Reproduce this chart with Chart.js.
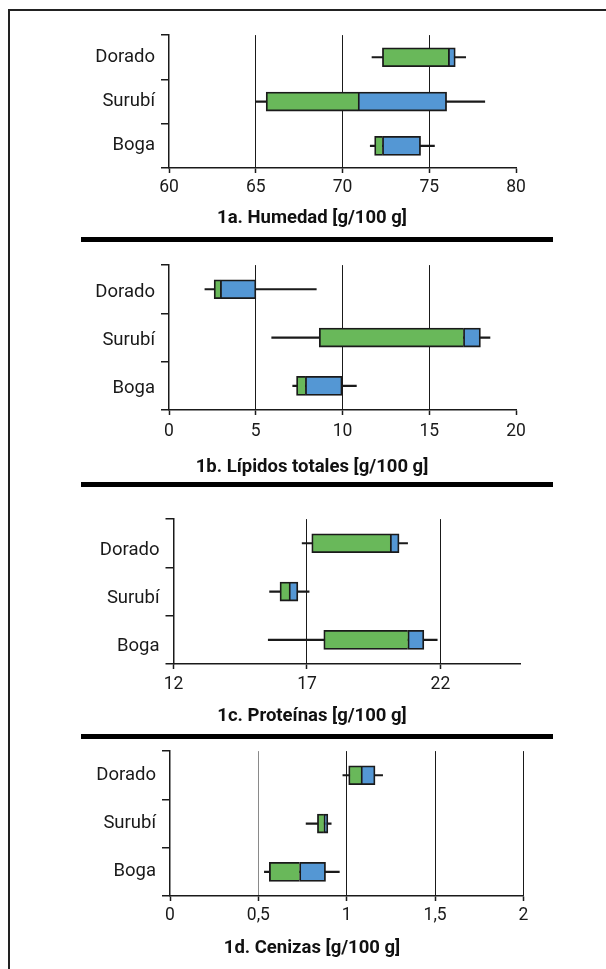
<!DOCTYPE html>
<html>
<head>
<meta charset="utf-8">
<script src="https://cdn.jsdelivr.net/npm/chart.js@4.4.1/dist/chart.umd.min.js"></script>
<style>
html, body { margin: 0; padding: 0; background: #fff; }
body { width: 606px; height: 969px; position: relative; overflow: hidden; }
canvas { position: absolute; left: 0; }
.frame { position: absolute; background: #222; }
.rule { position: absolute; background: #000; left: 81px; width: 472px; height: 5px; }
.ttl { position: absolute; left: 0; width: 624px; text-align: center; font: bold 18.5px Roboto, sans-serif;
       line-height: 22px; color: #111; white-space: nowrap; }
</style>
</head>
<body>
<div class="frame" style="left:8px;top:9px;width:2px;height:960px"></div>
<div class="frame" style="left:8px;top:9px;width:598px;height:2px"></div>
<div class="rule" style="top:237px"></div>
<div class="rule" style="top:482px"></div>
<div class="rule" style="top:734px"></div>
<canvas id="c1"></canvas>
<canvas id="c2"></canvas>
<canvas id="c3"></canvas>
<canvas id="c4"></canvas>
<div class="ttl" id="t1"></div>
<div class="ttl" id="t2"></div>
<div class="ttl" id="t3"></div>
<div class="ttl" id="t4"></div>
<script>
// categories
const species = ['Dorado', 'Surubí', 'Boga'];

// 1a. Humedad
const humedadLow = [71.7, 65.0, 71.6];
const humedadQ1 = [72.3, 65.6, 71.85];
const humedadMed = [76.1, 70.9, 72.3];
const humedadQ3 = [76.5, 76.0, 74.5];
const humedadHigh = [77.1, 78.2, 75.3];
const humedadTicks = [60, 65, 70, 75, 80];

// 1b. Lipidos totales
const lipidosLow = [2.07, 5.92, 7.13];
const lipidosQ1 = [2.6, 8.66, 7.35];
const lipidosMed = [2.96, 16.97, 7.86];
const lipidosQ3 = [5.01, 17.95, 9.98];
const lipidosHigh = [8.49, 18.5, 10.8];
const lipidosTicks = [0, 5, 10, 15, 20];

// 1c. Proteinas
const proteinasLow = [16.82, 15.6, 15.55];
const proteinasQ1 = [17.18, 15.99, 17.63];
const proteinasMed = [20.12, 16.33, 20.78];
const proteinasQ3 = [20.45, 16.66, 21.38];
const proteinasHigh = [20.77, 17.08, 21.88];
const proteinasTicks = [12, 17, 22];

// 1d. Cenizas
const cenizasLow = [0.978, 0.77, 0.534];
const cenizasQ1 = [1.011, 0.834, 0.562];
const cenizasMed = [1.081, 0.871, 0.733];
const cenizasQ3 = [1.16, 0.893, 0.88];
const cenizasHigh = [1.203, 0.912, 0.958];
const cenizasTicks = [0, 0.5, 1, 1.5, 2];

const GREEN = '#69b85a';
const BLUE = '#5497d4';
const INK = '#1a1a1a';
const FONT = 'Roboto';

function pairs(a, b) {
    return a.map((v, i) => [v, b[i]]);
}

function drawPanel(id, p) {
    const canvas = document.getElementById(id);
    const top = p.top - 15;
    const xh = Math.round(p.title + 11 - p.bottom);
    const h = p.bottom - top + xh;
    canvas.width = 606;
    canvas.height = h;
    canvas.style.top = top + 'px';

    // panel caption, centred on the page frame rather than on the plot
    const t = document.getElementById(p.titleId);
    t.textContent = p.name;
    t.style.top = (p.title - 11) + 'px';

    new Chart(canvas, {
        type: 'bar',
        data: {
            labels: species,
            datasets: [
                { data: pairs(p.low, p.high), backgroundColor: INK, borderWidth: 0, barThickness: 1.5, order: 3 },
                { data: pairs(p.q1, p.med), backgroundColor: GREEN, borderColor: INK, borderSkipped: false,
                  borderWidth: { top: 1.8, bottom: 1.8, left: 1.8, right: 0 }, barThickness: 19, order: 2 },
                { data: pairs(p.med, p.q3), backgroundColor: BLUE, borderColor: INK, borderSkipped: false,
                  borderWidth: 1.8, barThickness: 19, order: 1 }
            ]
        },
        options: {
            indexAxis: 'y',
            responsive: false,
            animation: false,
            devicePixelRatio: 1,
            datasets: { bar: { grouped: false } },
            layout: { padding: { top: 15, right: 606 - p.right, left: 0, bottom: 0 } },
            plugins: { legend: { display: false }, tooltip: { enabled: false } },
            scales: {
                y: {
                    afterFit: s => { s.width = p.left; },
                    grid: { offset: true, drawOnChartArea: false, tickLength: 8, color: INK, lineWidth: 1.5 },
                    border: { color: INK, width: 1.5 },
                    ticks: { color: INK, padding: 6, labelOffset: p.labelShift || 0, font: { family: FONT, size: 18.5 } }
                },
                x: {
                    min: p.from,
                    max: p.to,
                    afterFit: s => { s.height = xh; },
                    afterBuildTicks: s => { s.ticks = p.ticks.map(v => ({ value: v })); },
                    grid: {
                        color: c => {
                            const v = c.tick ? c.tick.value : null;
                            if (v === p.from) return 'rgba(0,0,0,0)';
                            if (v === p.to && p.hideLast) return 'rgba(0,0,0,0)';
                            if (v === p.grayAt) return '#8a8a8a';
                            return INK;
                        },
                        lineWidth: 1,
                        tickLength: 5,
                        tickColor: INK,
                        tickWidth: 1.5
                    },
                    border: { color: INK, width: 1.5 },
                    ticks: {
                        color: INK,
                        padding: p.tickPad,
                        font: { family: FONT, size: 17.5 },
                        callback: v => String(v).replace('.', ',')
                    }
                }
            }
        }
    });
}

drawPanel('c1', {
    name: '1a. Humedad [g/100 g]', titleId: 't1',
    low: humedadLow, q1: humedadQ1, med: humedadMed, q3: humedadQ3, high: humedadHigh,
    ticks: humedadTicks, from: 60, to: 80, hideLast: true,
    left: 169, right: 516, top: 33, bottom: 168, title: 216.5, tickPad: 4.5
});

drawPanel('c2', {
    name: '1b. Lípidos totales [g/100 g]', titleId: 't2',
    low: lipidosLow, q1: lipidosQ1, med: lipidosMed, q3: lipidosQ3, high: lipidosHigh,
    ticks: lipidosTicks, from: 0, to: 20, hideLast: true, labelShift: 3,
    left: 169, right: 516, top: 263, bottom: 410, title: 466, tickPad: 6
});

drawPanel('c3', {
    name: '1c. Proteínas [g/100 g]', titleId: 't3',
    low: proteinasLow, q1: proteinasQ1, med: proteinasMed, q3: proteinasQ3, high: proteinasHigh,
    ticks: proteinasTicks, from: 12, to: 25, labelShift: 7,
    left: 173.5, right: 520.5, top: 517, bottom: 664, title: 715, tickPad: 5.5
});

drawPanel('c4', {
    name: '1d. Cenizas [g/100 g]', titleId: 't4',
    low: cenizasLow, q1: cenizasQ1, med: cenizasMed, q3: cenizasQ3, high: cenizasHigh,
    ticks: cenizasTicks, from: 0, to: 2, grayAt: 0.5,
    left: 170, right: 523.5, top: 749, bottom: 896, title: 946.5, tickPad: 4.5
});
</script>
</body>
</html>
